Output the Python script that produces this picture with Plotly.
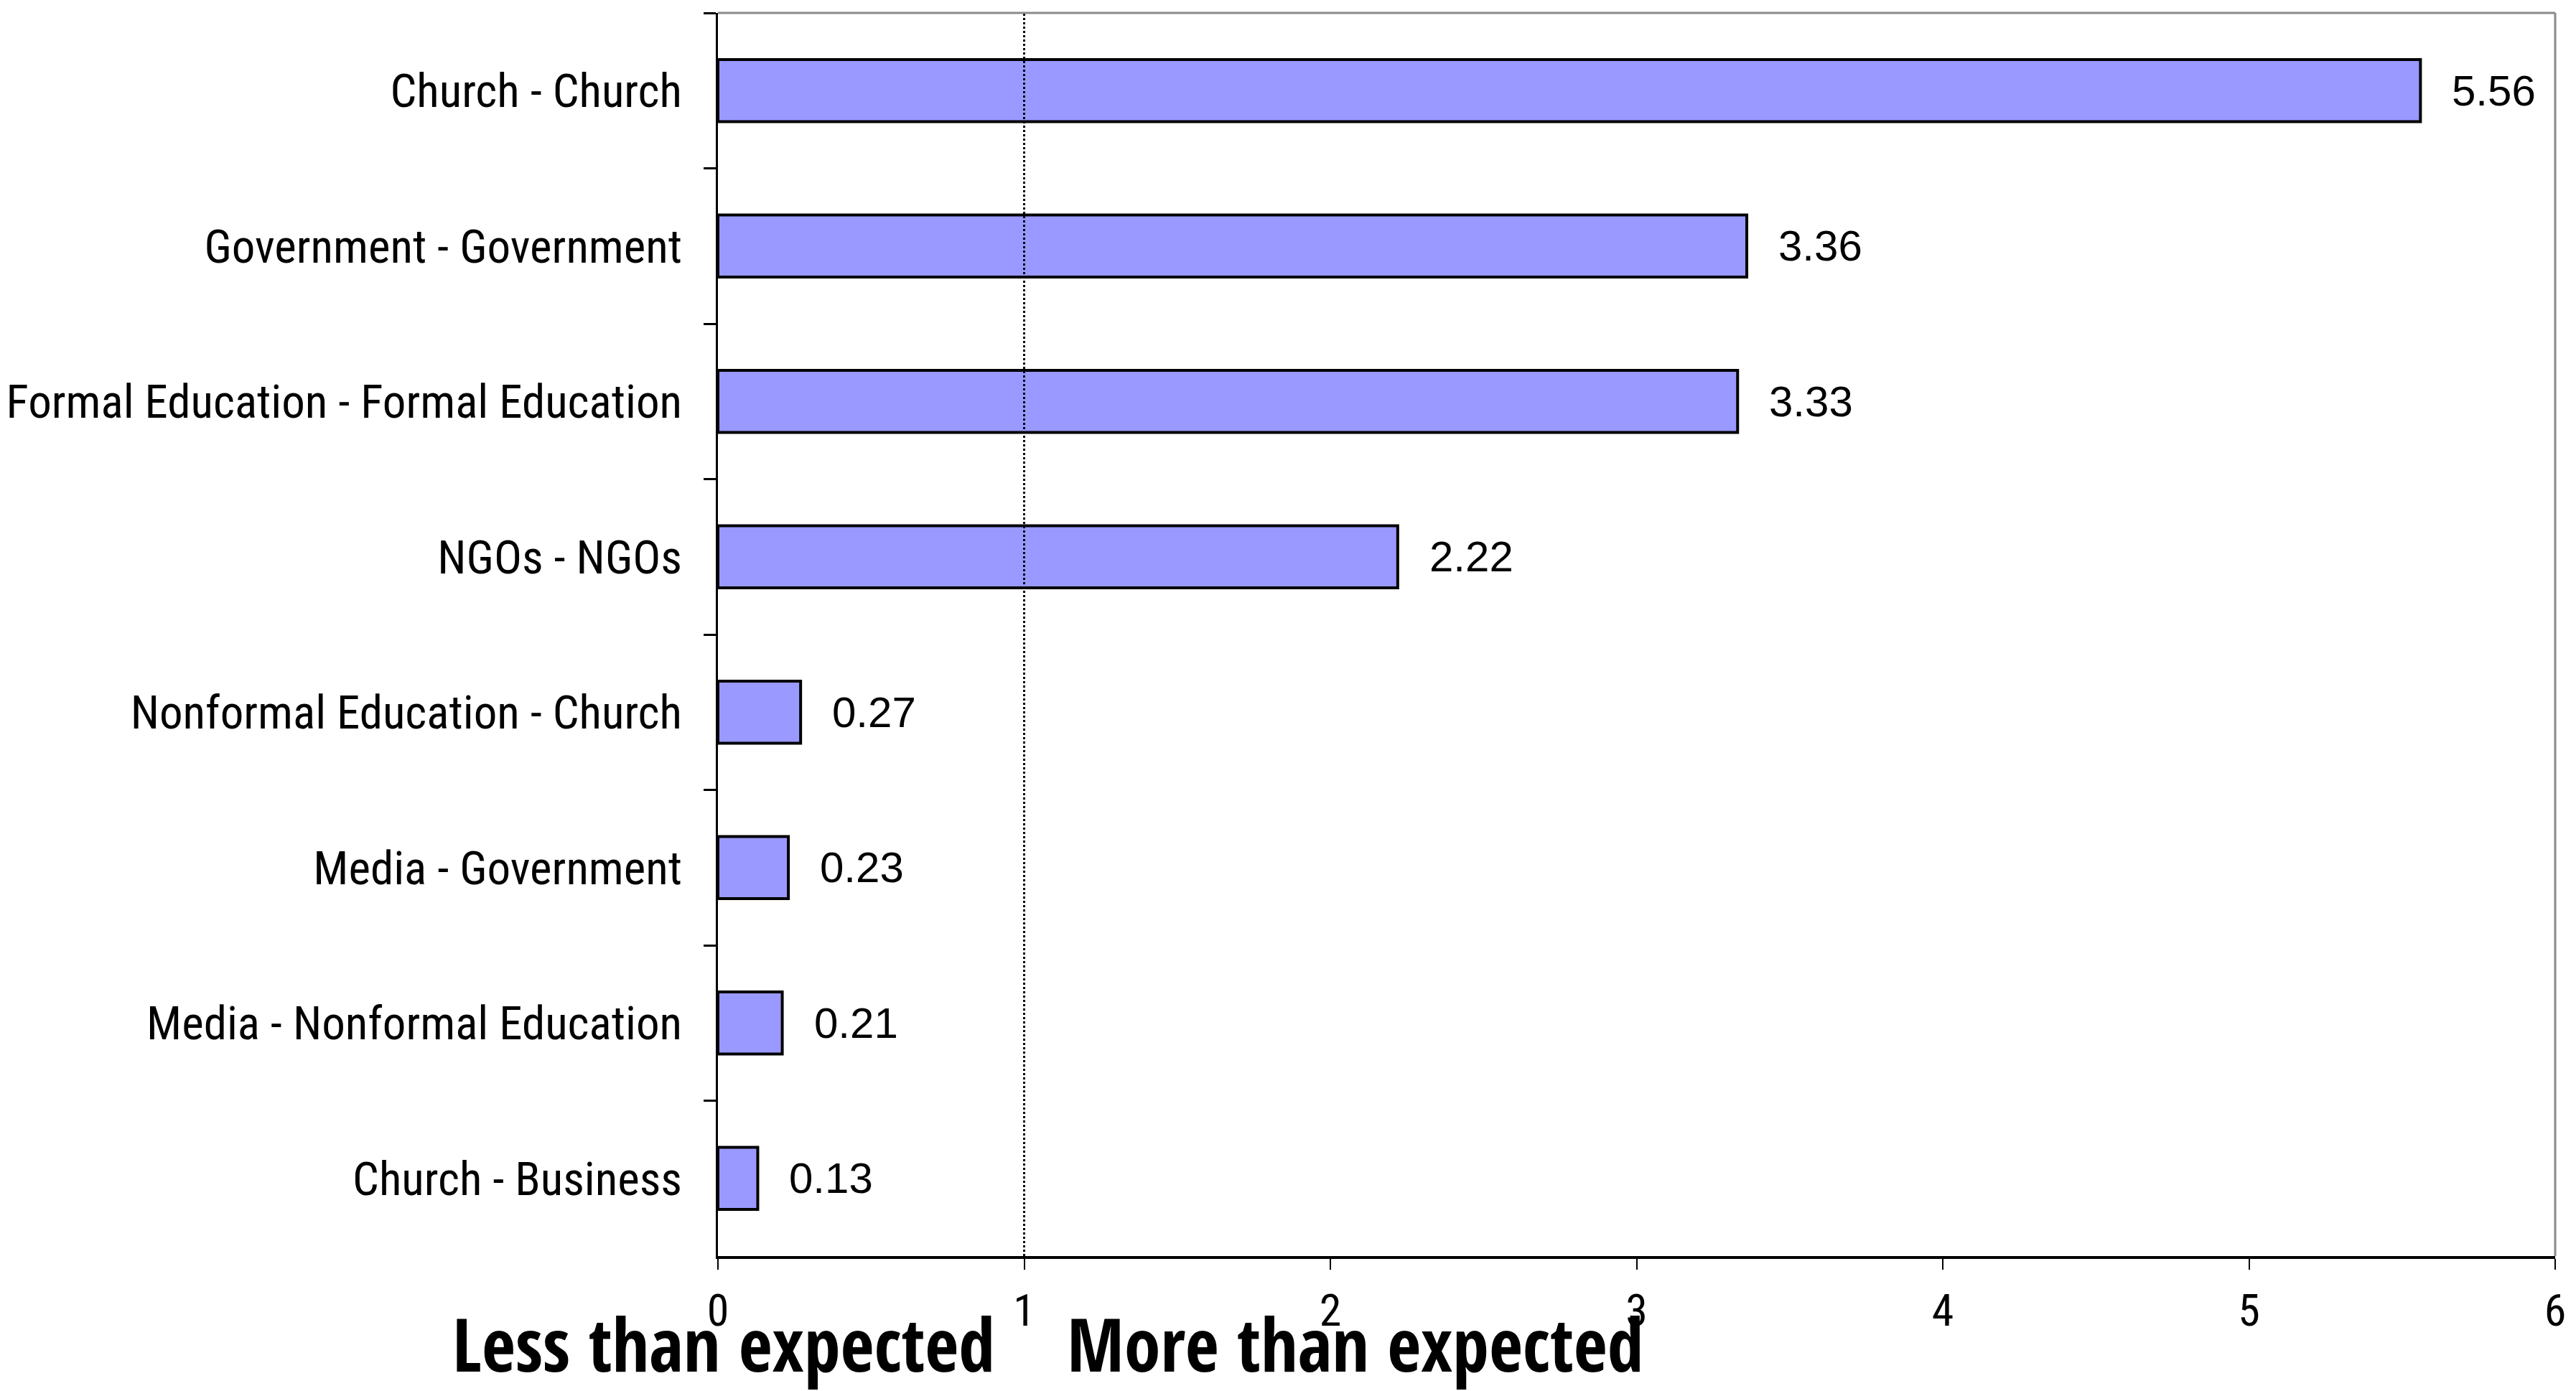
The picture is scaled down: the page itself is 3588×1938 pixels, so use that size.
import plotly.graph_objects as go

categories = [
    "Church - Church",
    "Government - Government",
    "Formal Education - Formal Education",
    "NGOs - NGOs",
    "Nonformal Education - Church",
    "Media - Government",
    "Media - Nonformal Education",
    "Church - Business",
]
values = [5.56, 3.36, 3.33, 2.22, 0.27, 0.23, 0.21, 0.13]
value_labels = ["5.56", "3.36", "3.33", "2.22", "0.27", "0.23", "0.21", "0.13"]
x_ticks = [0, 1, 2, 3, 4, 5, 6]
bottom_labels = ["Less than expected", "More than expected"]

NARROW = "Roboto Condensed, Liberation Sans Narrow, Arial Narrow, DejaVu Sans Condensed, sans-serif"
BOLDC = "Open Sans Condensed, Roboto Condensed, DejaVu Sans Condensed, sans-serif"
ARIAL = "Liberation Sans, Arial, sans-serif"

fig = go.Figure()
fig.add_trace(go.Bar(
    x=values, y=categories, orientation="h",
    width=0.4,
    marker=dict(color="#9999FF", line=dict(color="black", width=4)),
    hoverinfo="skip",
))

annotations = []
for v, c, t in zip(values, categories, value_labels):
    annotations.append(dict(
        x=v, y=c, xref="x", yref="y", text=t, showarrow=False,
        xanchor="left", yanchor="middle", xshift=42,
        font=dict(family=ARIAL, size=60, color="black"),
    ))

for xp, lab in zip([0.0030, 0.347], bottom_labels):
    annotations.append(dict(
        x=xp, y=-0.070, xref="paper", yref="paper", text="<b>%s</b>" % lab,
        showarrow=False, xanchor="center", yanchor="middle",
        font=dict(family=BOLDC, size=102, color="black"),
    ))

shapes = [
    # dotted reference line at 1
    dict(type="line", xref="x", yref="paper", x0=1, x1=1, y0=0, y1=1,
         line=dict(color="black", width=3, dash="dot"), layer="above"),
    # gray top and right frame
    dict(type="line", xref="paper", yref="paper", x0=0, x1=1, y0=1, y1=1,
         line=dict(color="#8a8a8a", width=3)),
    dict(type="line", xref="paper", yref="paper", x0=1, x1=1, y0=0, y1=1,
         line=dict(color="#8a8a8a", width=3)),
    # x axis line extension to the left
    dict(type="line", xref="x", xsizemode="pixel", xanchor=0, x0=-17, x1=0,
         yref="paper", y0=0, y1=0, line=dict(color="black", width=4)),
]

fig.update_layout(
    width=3588, height=1938,
    margin=dict(l=992, r=37, t=10, b=196),
    paper_bgcolor="white", plot_bgcolor="white",
    showlegend=False,
    annotations=annotations,
    shapes=shapes,
    xaxis=dict(
        range=[0, 6], tickvals=x_ticks, ticktext=[str(t) for t in x_ticks],
        automargin=False,
        showgrid=False, zeroline=False,
        showline=True, linecolor="black", linewidth=4,
        ticks="outside", ticklen=15, tickwidth=2, tickcolor="black",
        ticklabelstandoff=4,
        tickfont=dict(family=NARROW, size=62, color="black"),
    ),
    yaxis=dict(
        categoryorder="array", categoryarray=categories,
        autorange="reversed",
        automargin=False,
        showgrid=False, zeroline=False,
        showline=True, linecolor="black", linewidth=3,
        ticks="outside", ticklen=17, tickwidth=3, tickcolor="black",
        tickson="boundaries",
        ticklabelstandoff=34,
        tickfont=dict(family=NARROW, size=65, color="black"),
    ),
)

fig.write_html("out.html")
